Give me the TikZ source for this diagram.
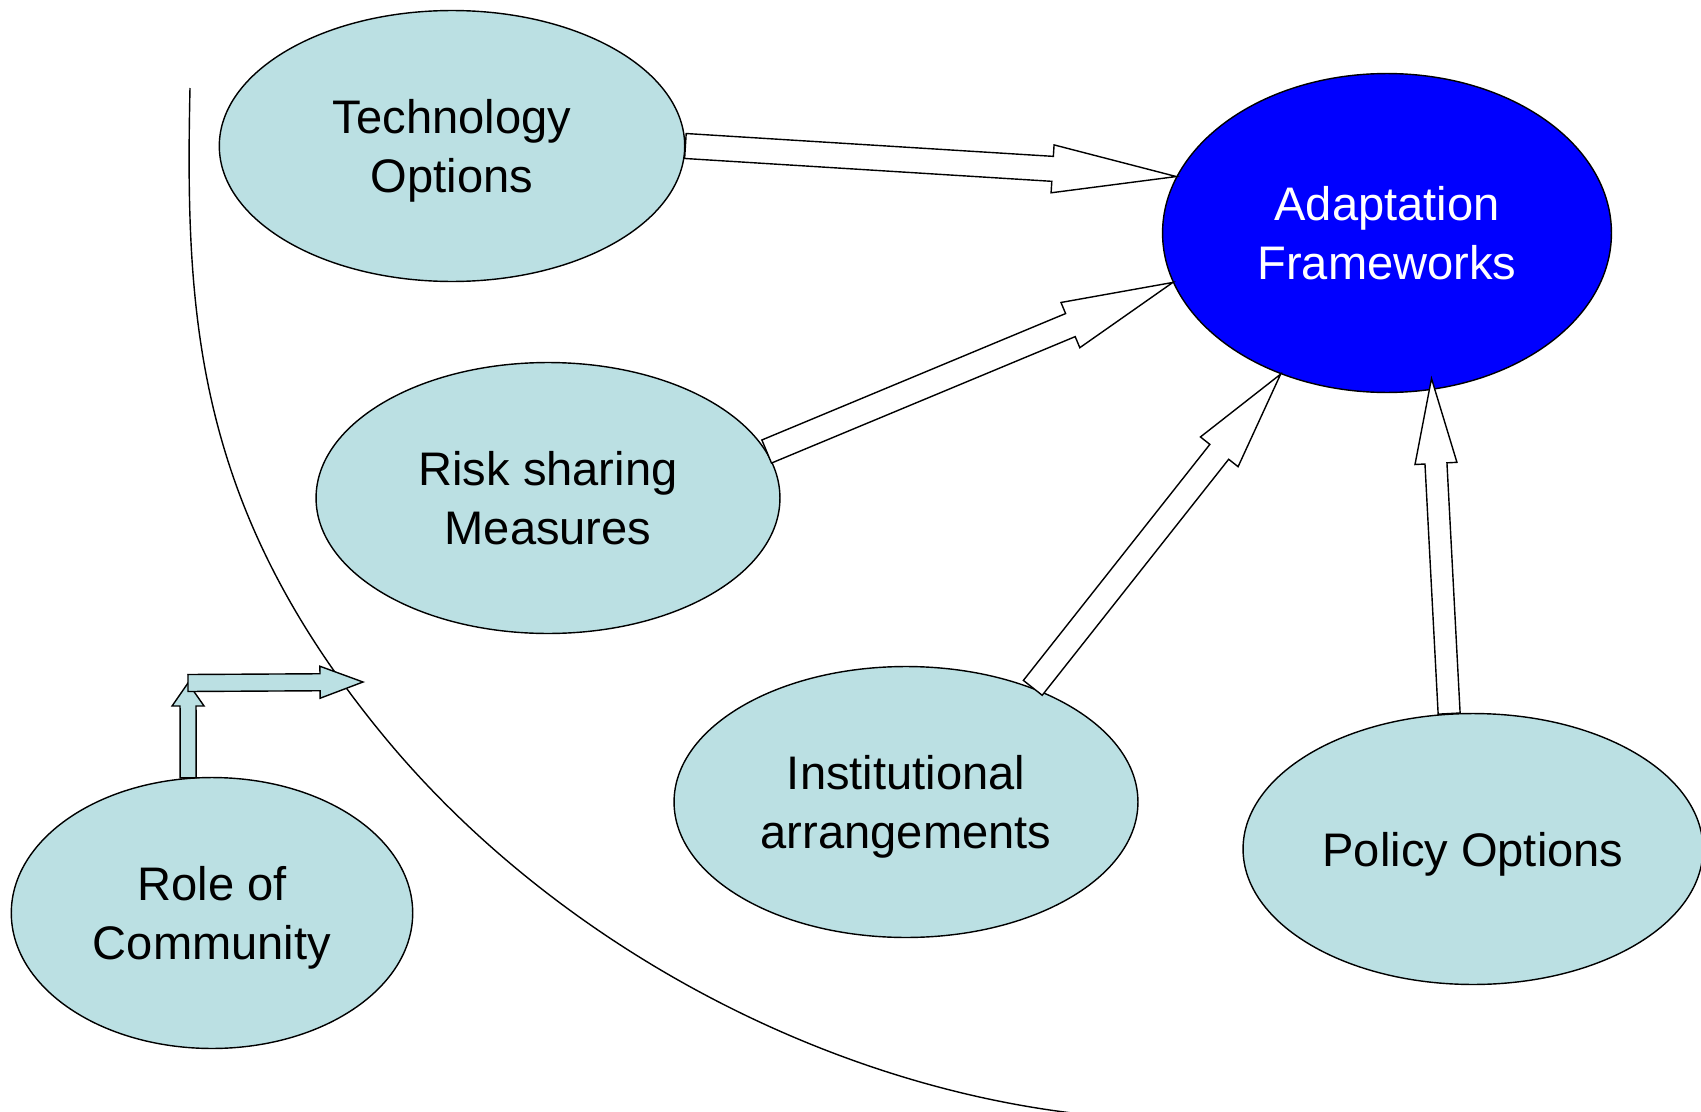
\documentclass[tikz,border=0pt]{standalone}
\usepackage{fontspec}
\setmainfont{Liberation Sans}
\usetikzlibrary{calc,shapes.geometric}
\definecolor{paleblue}{RGB}{187,224,227}

% block arrow: [fill]{tail}{tip}{shaft half width}{head half width}{head length}
\newcommand{\fatarrow}[6][white]{%
  \coordinate (fa-t) at (#2);
  \coordinate (fa-h) at (#3);
  \coordinate (fa-b) at ($(fa-h)!#6!(fa-t)$);
  \filldraw[fill=#1,line width=0.8pt,line join=miter]
    ($(fa-t)!#4!90:(fa-h)$) -- ($(fa-b)!#4!90:(fa-h)$) -- ($(fa-b)!#5!90:(fa-h)$)
    -- (fa-h) -- ($(fa-b)!#5!-90:(fa-h)$) -- ($(fa-b)!#4!-90:(fa-h)$)
    -- ($(fa-t)!#4!-90:(fa-h)$) -- cycle;
}

\begin{document}
\begin{tikzpicture}[x=0.02cm,y=-0.02cm,
    bubble/.style={ellipse,draw,line width=0.8pt,fill=paleblue,inner sep=0pt,
      align=center,minimum height=5.42cm,text depth=-1.5pt,
      font=\fontsize{26.8}{33.4}\selectfont}]
    \useasboundingbox (0,0) rectangle (1701,1112);
    % the community boundary
    \draw[line width=0.8pt] (190,88) .. controls (185,318) and (195,509) .. (387,740)
      .. controls (557,944) and (826,1088) .. (1090,1115);
    \node[bubble,minimum width=9.31cm] (tech) at (452,146) {Technology\\Options};
    \node[bubble,minimum width=9.28cm] (risk) at (548,498) {Risk sharing\\Measures};
    \node[bubble,minimum width=9.28cm] (inst) at (906,802) {Institutional\\arrangements};
    \node[bubble,minimum width=9.20cm] (policy) at (1473,849) {Policy Options};
    \node[bubble,minimum width=8.03cm] (role) at (212,913) {Role of\\Community};
    \node[bubble,fill=blue,text=white,minimum width=8.98cm,minimum height=6.38cm]
      (adapt) at (1387,233) {Adaptation\\Frameworks};
    \coordinate (adapt-in) at ($(adapt.center)!0.93!(adapt.287)$);
    \coordinate (lift) at (188,683);
    \coordinate (reach) at (363,682);
    % arrows into the framework
    \fatarrow{tech.east}{adapt.165}{0.25cm}{0.48cm}{2.48cm}
    \fatarrow{risk.12}{adapt.193}{0.25cm}{0.49cm}{2.22cm}
    \fatarrow{inst.42}{adapt.233}{0.24cm}{0.48cm}{1.98cm}
    \fatarrow{policy.100}{adapt-in}{0.22cm}{0.42cm}{1.7cm}
    % community arrows
    \fatarrow[paleblue]{role.100}{lift}{0.16cm}{0.32cm}{0.46cm}
    \fatarrow[paleblue]{lift}{reach}{0.17cm}{0.32cm}{0.86cm}
\end{tikzpicture}
\end{document}
